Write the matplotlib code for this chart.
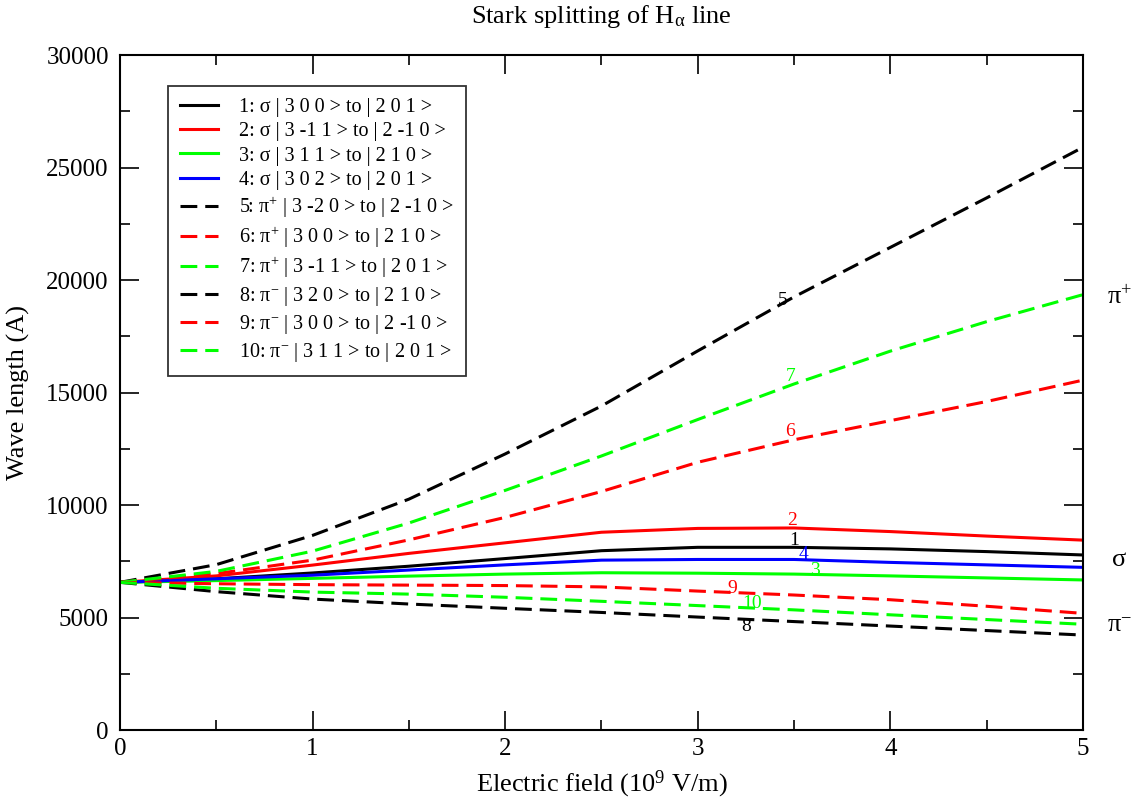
import matplotlib
matplotlib.use("Agg")
import matplotlib.pyplot as plt
from matplotlib.ticker import MultipleLocator

plt.rcParams["font.family"] = ["Liberation Serif", "DejaVu Serif"]
plt.rcParams["mathtext.fontset"] = "custom"
plt.rcParams["mathtext.rm"] = "Liberation Serif"
plt.rcParams["mathtext.it"] = "Liberation Serif:italic"
plt.rcParams["mathtext.default"] = "regular"

# Electric field (10^9 V/m)
field = [0, 0.5, 1, 1.5, 2, 2.5, 3, 3.5, 4, 4.5, 5]

# Wavelengths (A) of the ten Stark components
line_1 = [6563, 6720, 6980, 7280, 7620, 7970, 8120, 8120, 8050, 7930, 7780]
line_2 = [6563, 6850, 7330, 7850, 8320, 8790, 8960, 8980, 8820, 8620, 8440]
line_3 = [6563, 6640, 6740, 6840, 6930, 6990, 6970, 6930, 6850, 6760, 6670]
line_4 = [6563, 6720, 6880, 7110, 7340, 7550, 7580, 7580, 7450, 7340, 7230]
line_5 = [6563, 7350, 8650, 10260, 12270, 14400, 16850, 19250, 21450, 23650, 25900]
line_6 = [6563, 6950, 7550, 8450, 9450, 10600, 11900, 12900, 13750, 14600, 15550]
line_7 = [6563, 7050, 7950, 9200, 10650, 12180, 13800, 15380, 16840, 18150, 19350]
line_8 = [6563, 6150, 5820, 5600, 5410, 5225, 5020, 4820, 4620, 4420, 4220]
line_9 = [6563, 6500, 6460, 6440, 6420, 6360, 6175, 6000, 5790, 5500, 5185]
line_10 = [6563, 6300, 6130, 6040, 5900, 5720, 5530, 5340, 5120, 4910, 4700]

series = [line_1, line_2, line_3, line_4, line_5,
          line_6, line_7, line_8, line_9, line_10]
colors = ["black", "red", "#00ff00", "blue", "black",
          "red", "#00ff00", "black", "red", "#00ff00"]
styles = ["solid"] * 4 + ["dashed"] * 6

legend_labels = [
    "1: σ | 3 0 0 > to | 2 0 1 >",
    "2: σ | 3 -1 1 > to | 2 -1 0 >",
    "3: σ | 3 1 1 > to | 2 1 0 >",
    "4: σ | 3 0 2 > to | 2 0 1 >",
    "5: π$^{+}$ | 3 -2 0 > to | 2 -1 0 >",
    "6: π$^{+}$ | 3 0 0 > to | 2 1 0 >",
    "7: π$^{+}$ | 3 -1 1 > to | 2 0 1 >",
    "8: π$^{-}$ | 3 2 0 > to | 2 1 0 >",
    "9: π$^{-}$ | 3 0 0 > to | 2 -1 0 >",
    "10: π$^{-}$ | 3 1 1 > to | 2 0 1 >",
]

# Curve tags and where they sit
tag_text = ["5", "7", "6", "2", "1", "4", "3", "9", "10", "8"]
tag_x = [3.44, 3.48, 3.48, 3.49, 3.50, 3.55, 3.61, 3.18, 3.28, 3.25]
tag_y = [19100, 15730, 13260, 9330, 8440, 7820, 7110, 6300, 5630, 4590]
tag_colors = ["black", "#00ff00", "red", "red", "black", "blue",
              "#00ff00", "red", "#00ff00", "black"]

# Polarisation group names on the right
group_text = ["π$^{+}$", "σ", "π$^{-}$"]
group_y = [19240, 7560, 4620]

fig = plt.figure(figsize=(11.36, 8.07), dpi=100)
ax = fig.add_axes([0.1056, 0.0954, 0.8477, 0.8364])

for ys, c, ls, lab in zip(series, colors, styles, legend_labels):
    kw = dict(color=c, lw=2.2, label=lab)
    if ls == "dashed":
        kw["dashes"] = (5.5, 2.6)
    ax.plot(field, ys, **kw)

for t, x, y, c in zip(tag_text, tag_x, tag_y, tag_colors):
    ax.text(x, y, t, color=c, fontsize=14, ha="center", va="center")

for t, y in zip(group_text, group_y):
    ax.text(5.19, y, t, color="black", fontsize=19, ha="center",
            va="center", clip_on=False)

ax.set_xlim(0, 5)
ax.set_ylim(0, 30000)
ax.xaxis.set_major_locator(MultipleLocator(1))
ax.xaxis.set_minor_locator(MultipleLocator(0.5))
ax.yaxis.set_major_locator(MultipleLocator(5000))
ax.yaxis.set_minor_locator(MultipleLocator(2500))
ax.tick_params(which="both", direction="in", top=True, right=True,
               width=1.2, colors="black", labelsize=18)
ax.tick_params(which="major", length=14)
ax.tick_params(which="minor", length=7)
ax.tick_params(axis="x", pad=6)
ax.tick_params(axis="y", pad=8)
for s in ax.spines.values():
    s.set_linewidth(1.5)

ax.set_xlabel("Electric field (10$^{9}$ V/m)", fontsize=19, labelpad=6)
ax.set_ylabel("Wave length (A)", fontsize=19, labelpad=12)
ax.set_title("Stark splitting of H$_{α}$ line", fontsize=19, pad=23)

leg = ax.legend(loc="upper left", bbox_to_anchor=(0.05, 0.954),
                borderaxespad=0, fontsize=14.5, frameon=True, fancybox=False,
                edgecolor="black", handlelength=1.9, handletextpad=1.0,
                labelspacing=0.25, borderpad=0.6)
leg.get_frame().set_linewidth(1.3)

fig.savefig("out.png", dpi=100)
